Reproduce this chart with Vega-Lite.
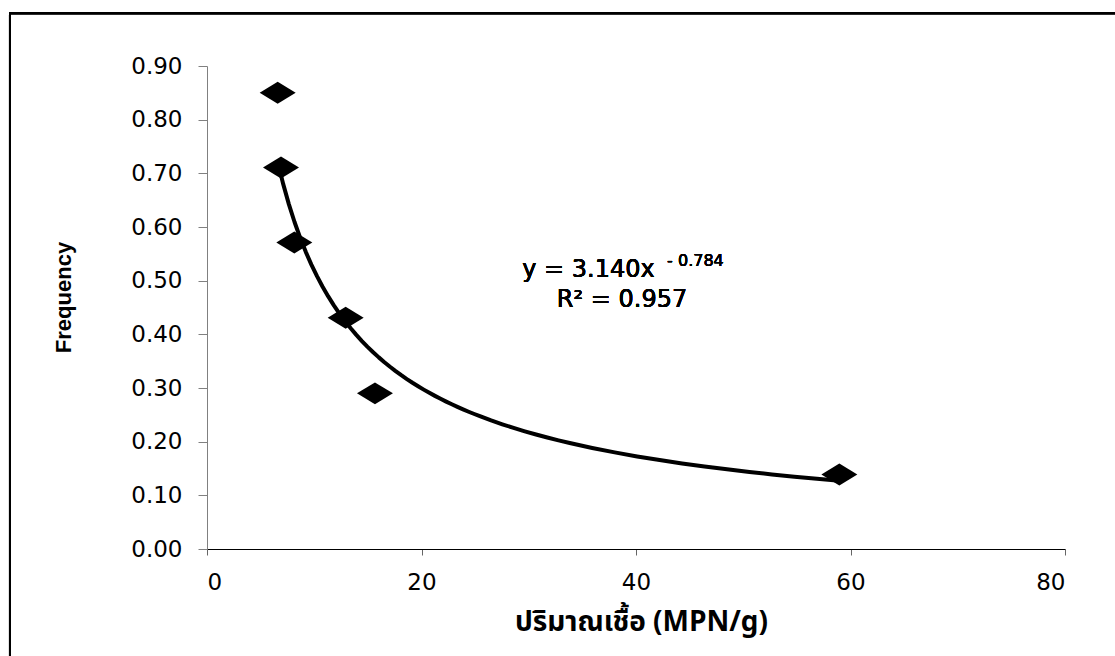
{
  "$schema": "https://vega.github.io/schema/vega-lite/v6.json",
  "width": 858,
  "height": 483,
  "autosize": {"type": "none"},
  "padding": {"left": 207, "top": 66, "right": 50, "bottom": 107},
  "background": "white",
  "config": {"view": {"stroke": null}},
  "data": {
    "values": [
      {"mpn": 6.59, "freq": 0.85},
      {"mpn": 6.9, "freq": 0.711},
      {"mpn": 8.14, "freq": 0.571},
      {"mpn": 12.93, "freq": 0.431},
      {"mpn": 15.66, "freq": 0.29},
      {"mpn": 58.96, "freq": 0.139}
    ]
  },
  "layer": [
    {
      "mark": {"type": "rect", "fill": null, "fillOpacity": 0, "stroke": "black", "strokeWidth": 2, "clip": false},
      "encoding": {
        "x": {"datum": -18.37, "type": "quantitative", "scale": {"domain": [0, 80], "nice": false}},
        "x2": {"datum": 120},
        "y": {"datum": 0.9985, "type": "quantitative", "scale": {"domain": [0, 0.9], "nice": false}},
        "y2": {"datum": -1}
      }
    },
    {
      "transform": [{"regression": "freq", "on": "mpn", "method": "pow"}],
      "mark": {"type": "line", "color": "black", "strokeWidth": 4, "strokeJoin": "round"},
      "encoding": {
        "x": {"field": "mpn", "type": "quantitative", "scale": {"domain": [0, 80], "nice": false}},
        "y": {"field": "freq", "type": "quantitative", "scale": {"domain": [0, 0.9], "nice": false}}
      }
    },
    {
      "mark": {"type": "point", "shape": "M-1,0L0,-0.61L1,0L0,0.61Z", "size": 1296, "filled": true, "color": "black", "opacity": 1},
      "encoding": {
        "x": {
          "field": "mpn", "type": "quantitative",
          "scale": {"domain": [0, 80], "nice": false},
          "axis": {
            "values": [0, 20, 40, 60, 80],
            "grid": false,
            "domainColor": "#000000",
            "domainWidth": 1,
            "tickColor": "#666666",
            "tickSize": 6,
            "labelFont": "DejaVu Sans",
            "labelFontSize": 23,
            "labelFontWeight": "normal",
            "labelColor": "black",
            "labelPadding": 16,
            "title": "ปริมาณเชื้อ (MPN/g)",
            "titleFont": "Noto Sans Thai, Noto Sans, DejaVu Sans",
            "titleFontSize": 28,
            "titleFontWeight": "bold",
            "titleColor": "black",
            "titleX": 434,
            "titleY": 81,
            "titleAlign": "center",
            "titleBaseline": "alphabetic"
          }
        },
        "y": {
          "field": "freq", "type": "quantitative",
          "scale": {"domain": [0, 0.9], "nice": false},
          "axis": {
            "values": [0, 0.1, 0.2, 0.3, 0.4, 0.5, 0.6, 0.7, 0.8, 0.9],
            "format": ".2f",
            "grid": false,
            "domainColor": "#808080",
            "domainWidth": 1,
            "tickColor": "#808080",
            "tickSize": 9,
            "labelFont": "DejaVu Sans",
            "labelFontSize": 23,
            "labelFontWeight": "normal",
            "labelColor": "black",
            "labelPadding": 16,
            "title": "Frequency",
            "titleFont": "Liberation Sans",
            "titleFontSize": 22,
            "titleFontWeight": "bold",
            "titleColor": "black",
            "titleAngle": -90,
            "titleX": -144,
            "titleY": 231,
            "titleAlign": "center",
            "titleBaseline": "middle"
          }
        }
      }
    },
    {
      "mark": {"type": "text", "font": "DejaVu Sans", "fontSize": 24, "fontWeight": "normal", "color": "black", "align": "right", "baseline": "alphabetic"},
      "encoding": {
        "x": {"datum": 41.75, "type": "quantitative", "scale": {"domain": [0, 80], "nice": false}},
        "y": {"datum": 0.507, "type": "quantitative", "scale": {"domain": [0, 0.9], "nice": false}},
        "text": {"value": "y = 3.140x"}
      }
    },
    {
      "mark": {"type": "text", "font": "DejaVu Sans", "fontSize": 16, "fontWeight": "normal", "color": "black", "align": "left", "baseline": "alphabetic"},
      "encoding": {
        "x": {"datum": 42.9, "type": "quantitative", "scale": {"domain": [0, 80], "nice": false}},
        "y": {"datum": 0.527, "type": "quantitative", "scale": {"domain": [0, 0.9], "nice": false}},
        "text": {"value": "- 0.784"}
      }
    },
    {
      "mark": {"type": "text", "font": "DejaVu Sans", "fontSize": 24, "fontWeight": "normal", "color": "black", "align": "center", "baseline": "alphabetic"},
      "encoding": {
        "x": {"datum": 38.7, "type": "quantitative", "scale": {"domain": [0, 80], "nice": false}},
        "y": {"datum": 0.451, "type": "quantitative", "scale": {"domain": [0, 0.9], "nice": false}},
        "text": {"value": "R² = 0.957"}
      }
    }
  ]
}
